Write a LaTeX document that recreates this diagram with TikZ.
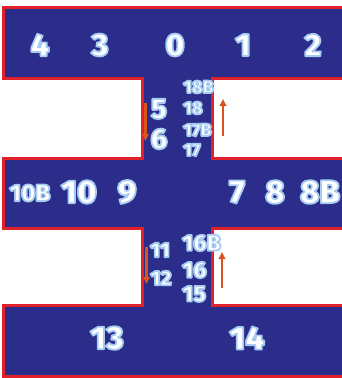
\documentclass[tikz,border=0pt]{standalone}
\usepackage{fontspec}
\IfFontExistsTF{Fira Sans Black}{\setmainfont{Fira Sans}[BoldFont={Fira Sans Black}]}{\setmainfont{Fira Sans}}
\usetikzlibrary{arrows.meta}
\definecolor{bandblue}{HTML}{2C2D8A}
\definecolor{edgered}{HTML}{E0202A}
\definecolor{arrowc}{HTML}{D8561E}
\newcommand\gl[1]{\special{pdf:literal direct 1 j 1.8 w 0.65 0.8 0.95 RG 2 Tr}#1\special{pdf:literal direct 0 Tr 1 w}}
\tikzset{
  numlabel/.style={inner sep=0pt, text=white, font=\bfseries\fontsize{#1}{#1}\selectfont},
  flowarrow/.style={draw=arrowc, line width=2.4pt, -{Triangle[length=7pt,width=6.5pt]}}
}
\begin{document}
\begin{tikzpicture}[x=1pt,y=-1pt]
\useasboundingbox (0,0) rectangle (342,378);
\begin{scope}
\clip (0,0) rectangle (342,378);
\path[fill=bandblue, draw=edgered, line width=3pt]
  (3,7) -- (350,7) -- (350,78) -- (212,78) -- (212,158) -- (350,158) -- (350,228)
  -- (212,228) -- (212,305) -- (350,305) -- (350,376) -- (3,376) -- (3,305)
  -- (142,305) -- (142,228) -- (3,228) -- (3,158) -- (142,158) -- (142,78)
  -- (3,78) -- cycle;
\end{scope}
% top row
\node[numlabel=32] (n4) at (40,45) {\gl{4}};
\node[numlabel=32] (n3) at (100,45) {\gl{3}};
\node[numlabel=32] (n0) at (175,45) {\gl{0}};
\node[numlabel=32] (n1) at (243,45) {\gl{1}};
\node[numlabel=32] (n2) at (313,45) {\gl{2}};
% upper connector
\node[numlabel=29] (n5) at (159,109) {\gl{5}};
\node[numlabel=29] (n6) at (159,139) {\gl{6}};
\node[numlabel=18,anchor=west] (n18b) at (183,87) {\gl{18B}};
\node[numlabel=18,anchor=west] (n18) at (183,108) {\gl{18}};
\node[numlabel=18,anchor=west] (n17b) at (183,130) {\gl{17B}};
\node[numlabel=18,anchor=west] (n17) at (183,150) {\gl{17}};
\coordinate (a1s) at (145.5,103); \coordinate (a1e) at (145.5,141);
\coordinate (a2s) at (223,136); \coordinate (a2e) at (223,99);
\draw[flowarrow] (a1s) -- (a1e);
\draw[flowarrow] (a2s) -- (a2e);
% middle row
\node[numlabel=24] (n10b) at (30,193) {\gl{10B}};
\node[numlabel=33] (n10) at (79,192) {\gl{10}};
\node[numlabel=33] (n9) at (127,192) {\gl{9}};
\node[numlabel=33] (n7) at (237,192) {\gl{7}};
\node[numlabel=33] (n8) at (275,192) {\gl{8}};
\node[numlabel=33] (n8b) at (320,192) {\gl{8B}};
% lower connector
\node[numlabel=21] (n11) at (160,250) {\gl{11}};
\node[numlabel=21] (n12) at (161,278) {\gl{12}};
\node[numlabel=23,anchor=west] (n16b) at (182,243) {\gl{16B}};
\node[numlabel=23,anchor=west] (n16) at (182,270) {\gl{16}};
\node[numlabel=23,anchor=west] (n15) at (182,294) {\gl{15}};
\coordinate (b1s) at (146.5,247); \coordinate (b1e) at (146.5,284);
\coordinate (b2s) at (222,288); \coordinate (b2e) at (222,252);
\draw[flowarrow] (b1s) -- (b1e);
\draw[flowarrow] (b2s) -- (b2e);
% bottom row
\node[numlabel=33] (n13) at (107,338) {\gl{13}};
\node[numlabel=33] (n14) at (247,338) {\gl{14}};
\end{tikzpicture}
\end{document}
